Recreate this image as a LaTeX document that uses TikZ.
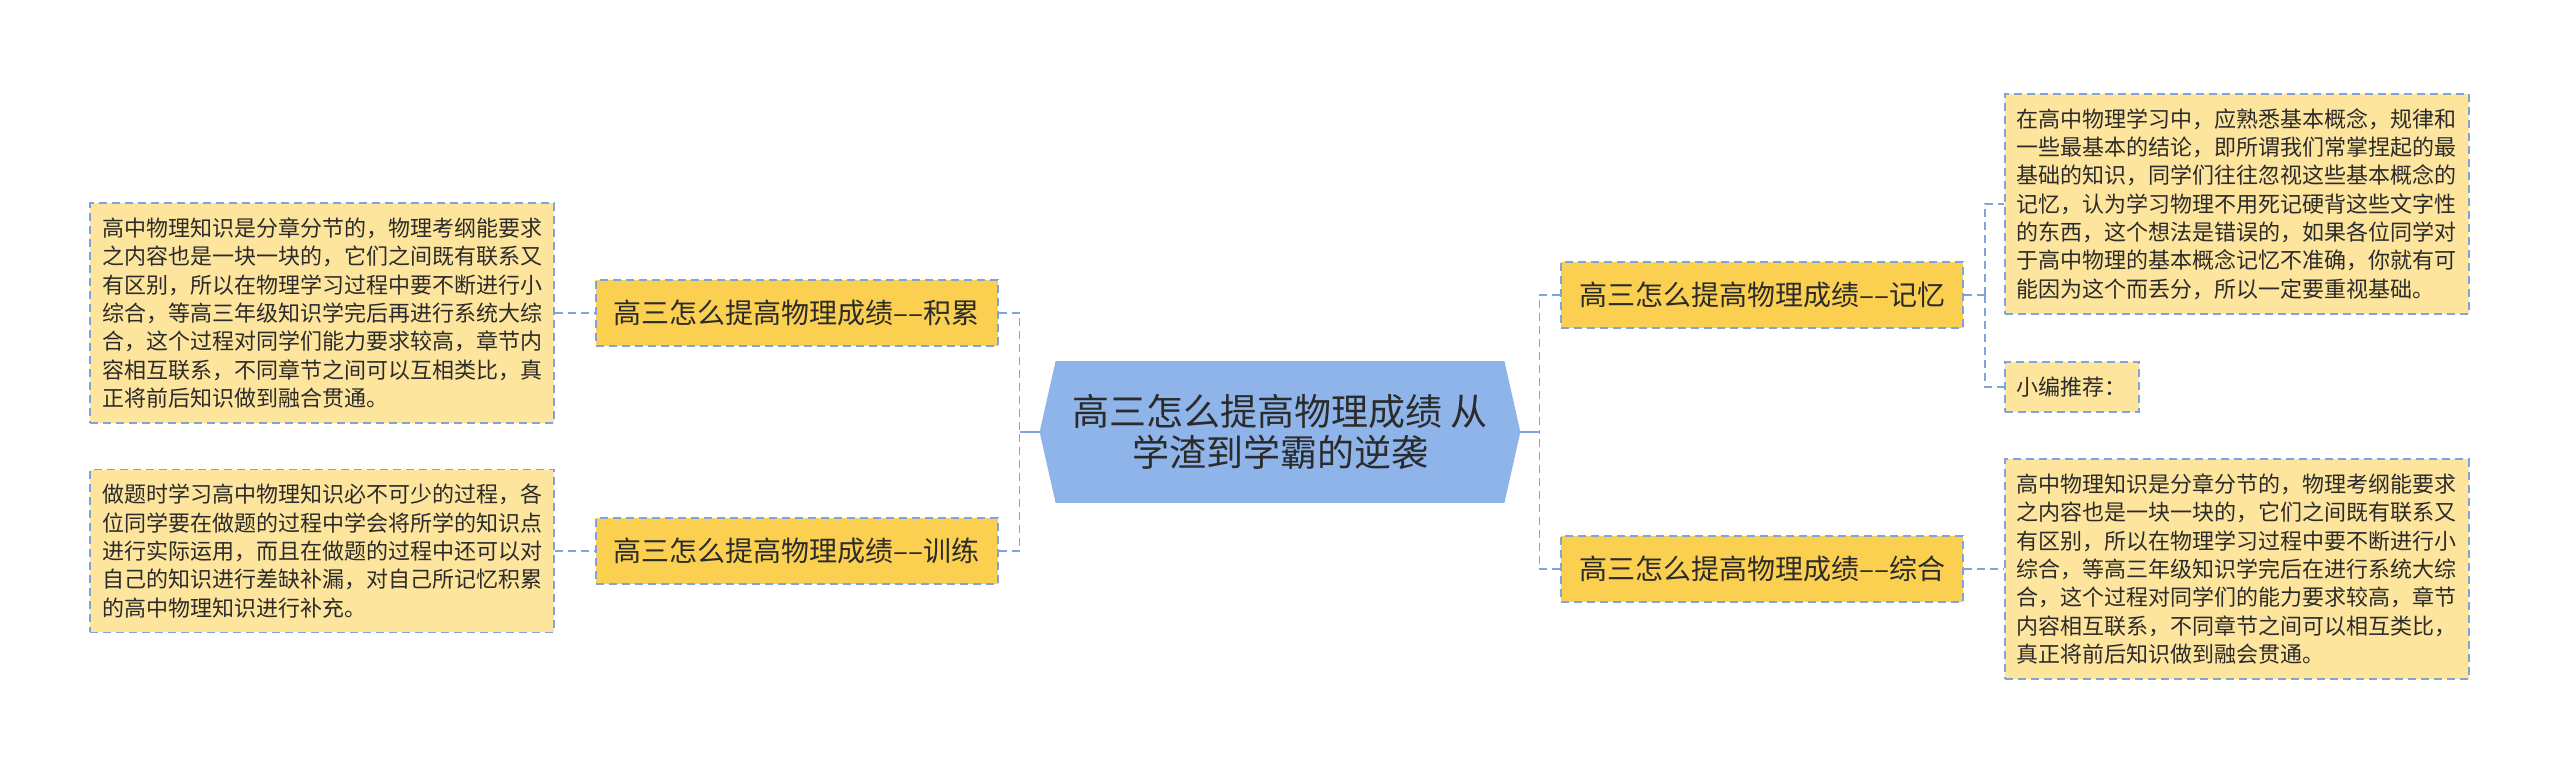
\documentclass[tikz,border=0pt]{standalone}
\usepackage{fontspec}
\setmainfont{Noto Sans CJK SC}
\usetikzlibrary{positioning, backgrounds}
\definecolor{hubblue}{HTML}{8EB4E9}
\definecolor{linkblue}{HTML}{7FA3DA}
\definecolor{branchgold}{HTML}{FBD050}
\definecolor{leafcream}{HTML}{FEE59E}
\definecolor{inkgray}{HTML}{2B2B2B}

\begin{document}
\begin{tikzpicture}[
        hub/.style={rectangle, minimum width=224pt, minimum height=70.5pt, align=center, text=inkgray, font=\fontsize{18.5pt}{20.5pt}\selectfont},
        branch/.style={rectangle, draw=linkblue, fill=branchgold, line width=0.8pt, dash pattern=on 4pt off 2.5pt, minimum width=201pt, minimum height=33pt, text=inkgray, font=\fontsize{14pt}{16pt}\selectfont},
        leaf/.style={rectangle, draw=linkblue, fill=leafcream, line width=0.8pt, dash pattern=on 4pt off 2.5pt, align=left, inner xsep=6pt, inner ysep=7.3pt, text=inkgray, font=\fontsize{11pt}{14.15pt}\selectfont},
        trunk/.style={draw=linkblue, line width=1pt},
        twig/.style={draw=linkblue, line width=0.8pt, dash pattern=on 4pt off 2.5pt}]

        \useasboundingbox (0,0) rectangle (1280pt,-387pt);

        \node [hub] (hub) at (640pt,-216pt) {高三怎么提高物理成绩 从\\学渣到学霸的逆袭};
        \coordinate (hubL) at ([xshift=-8pt]hub.west);
        \coordinate (hubR) at ([xshift=8pt]hub.east);
        \begin{scope}[on background layer]
            \fill[white] (0,0) rectangle (1280pt,-387pt);
            \fill[hubblue] (hub.north west) -- (hub.north east) -- (hubR) -- (hub.south east) -- (hub.south west) -- (hubL) -- cycle;
        \end{scope}

        \node [branch, left=28.5pt of hub.west, yshift=59.5pt] (acc) {高三怎么提高物理成绩––积累};
        \node [branch, left=28.5pt of hub.west, yshift=-59.5pt] (drill) {高三怎么提高物理成绩––训练};
        \node [branch, right=28pt of hub.east, yshift=68.5pt] (mem) {高三怎么提高物理成绩––记忆};
        \node [branch, right=28pt of hub.east, yshift=-68.5pt] (sum) {高三怎么提高物理成绩––综合};

        \node [leaf, left=20pt of acc] (acctext) {高中物理知识是分章分节的，物理考纲能要求\\之内容也是一块一块的，它们之间既有联系又\\有区别，所以在物理学习过程中要不断进行小\\综合，等高三年级知识学完后再进行系统大综\\合，这个过程对同学们能力要求较高，章节内\\容相互联系，不同章节之间可以互相类比，真\\正将前后知识做到融合贯通。};
        \node [leaf, left=20pt of drill] (drilltext) {做题时学习高中物理知识必不可少的过程，各\\位同学要在做题的过程中学会将所学的知识点\\进行实际运用，而且在做题的过程中还可以对\\自己的知识进行差缺补漏，对自己所记忆积累\\的高中物理知识进行补充。};
        \node [leaf, right=20pt of mem, yshift=45.5pt] (memtext) {在高中物理学习中，应熟悉基本概念，规律和\\一些最基本的结论，即所谓我们常掌捏起的最\\基础的知识，同学们往往忽视这些基本概念的\\记忆，认为学习物理不用死记硬背这些文字性\\的东西，这个想法是错误的，如果各位同学对\\于高中物理的基本概念记忆不准确，你就有可\\能因为这个而丢分，所以一定要重视基础。};
        \node [leaf, right=20pt of mem, yshift=-46pt, minimum height=25pt] (rec) {小编推荐：};
        \node [leaf, right=20pt of sum] (sumtext) {高中物理知识是分章分节的，物理考纲能要求\\之内容也是一块一块的，它们之间既有联系又\\有区别，所以在物理学习过程中要不断进行小\\综合，等高三年级知识学完后在进行系统大综\\合，这个过程对同学们的能力要求较高，章节\\内容相互联系，不同章节之间可以相互类比，\\真正将前后知识做到融会贯通。};

        \coordinate (jL) at ([xshift=-18pt]hub.west);
        \coordinate (jR) at ([xshift=17.5pt]hub.east);
        \coordinate (jM) at ([xshift=10.5pt]mem.east);

        \path [trunk] (hubL) -- (jL);
        \path [trunk] (hubR) -- (jR);
        \path [twig] (acc.east) -| (jL);
        \path [twig] (drill.east) -| (jL);
        \path [twig] (mem.west) -| (jR);
        \path [twig] (sum.west) -| (jR);
        \path [twig] (acctext) -- (acc);
        \path [twig] (drilltext) -- (drill);
        \path [twig] (sum) -- (sumtext);
        \path [twig] (mem) -- (jM);
        \path [twig] (jM) |- (memtext.west);
        \path [twig] (jM) |- (rec.west);
    \end{tikzpicture}
\end{document}
